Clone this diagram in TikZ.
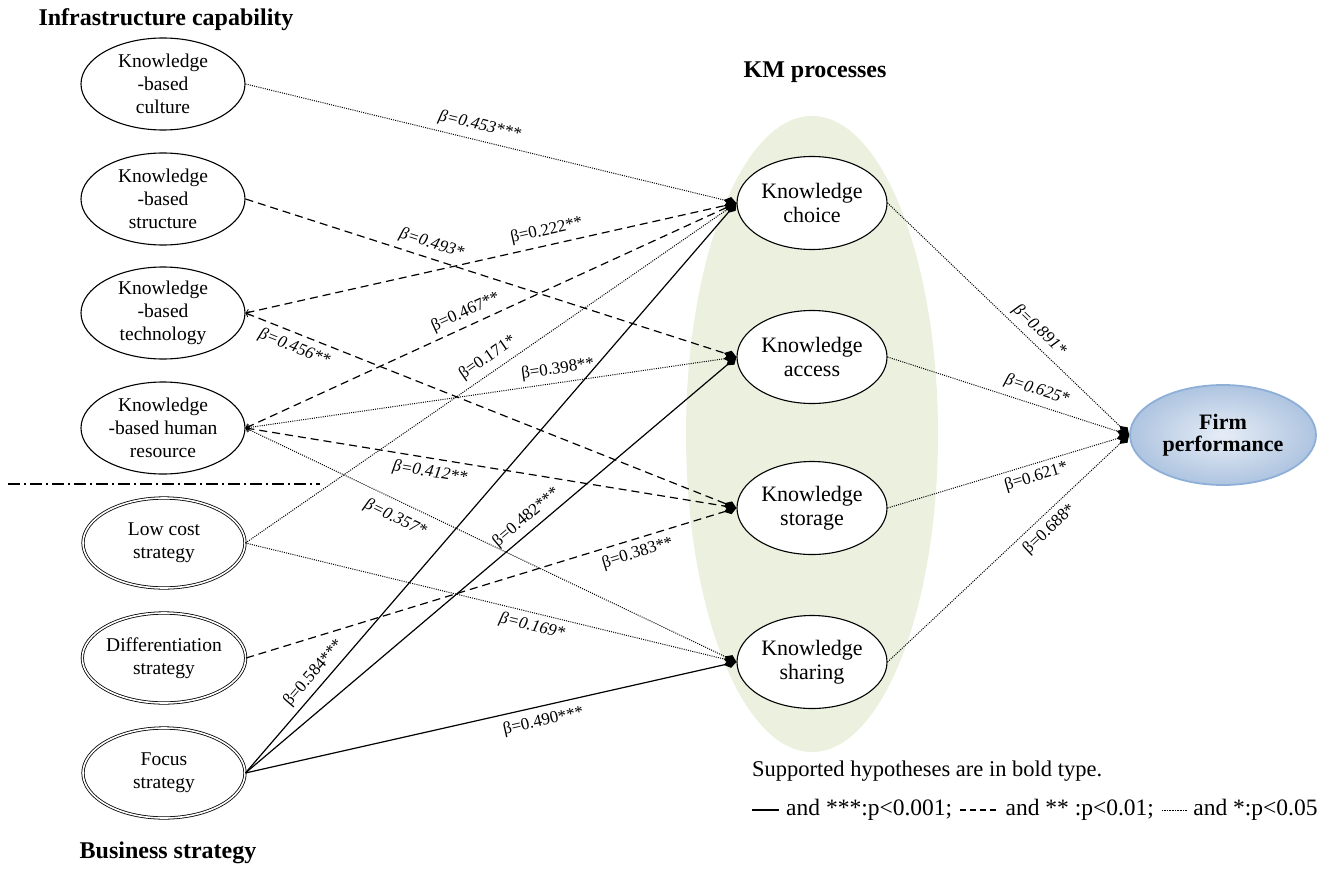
\documentclass[tikz,border=0pt]{standalone}
\usepackage{fontspec}
\setmainfont{Liberation Serif}
\usetikzlibrary{shapes.geometric,arrows.meta}
\definecolor{kmgreen}{HTML}{EBF1DE}
\definecolor{fpborder}{HTML}{8EAFD8}
\definecolor{fpin}{HTML}{E6EDF6}
\definecolor{fpout}{HTML}{AEC4E0}
\begin{document}
\begin{tikzpicture}[x=1pt,y=-1pt,
  leftell/.style={ellipse, draw, line width=1.1pt, minimum width=164pt, minimum height=92pt, inner xsep=0pt, inner ysep=-9pt, align=center, font=\fontsize{19.5}{22.7}\selectfont},
  stratell/.style={leftell, double, double distance=1.6pt, line width=0.8pt, minimum width=162pt, minimum height=90pt},
  kmell/.style={ellipse, draw, fill=white, line width=1.1pt, minimum width=150pt, minimum height=93pt, inner xsep=0pt, inner ysep=-9pt, align=center, font=\fontsize{22}{23.5}\selectfont},
  head/.style={font=\bfseries\fontsize{24}{28}\selectfont},
  sol/.style={line width=1.2pt},
  dsh/.style={line width=1.2pt, dash pattern=on 8pt off 5pt},
  dts/.style={line width=1pt, dash pattern=on 1pt off 1.2pt},
  tip/.style={-{Diamond[length=13pt,width=9pt]}},
  bktip/.style={{Straight Barb[length=3pt,width=6pt,line width=0.8pt]}-{Diamond[length=13pt,width=9pt]}},
  lab/.style={sloped, inner sep=1pt, font=\fontsize{17}{19}\selectfont},
  ilab/.style={sloped, inner sep=1pt, font=\itshape\fontsize{17}{19}\selectfont},
  legtxt/.style={anchor=west, inner sep=0pt, font=\fontsize{23.5}{26}\selectfont},
]
\useasboundingbox (0,0) rectangle (1335,869);

% background KM ellipse
\node[ellipse, fill=kmgreen, minimum width=252pt, minimum height=636pt, inner sep=0pt] (kmbg) at (812,434) {};

% headings
\node[head] (hinf) at (166,20) {Infrastructure capability};
\node[head] (hkm) at (815,72) {KM processes};
\node[head] (hbus) at (168,853) {Business strategy};

% left nodes
\node[leftell] (cult) at (163,84) {Knowledge\\-based\\culture};
\node[leftell] (struc) at (163,199) {Knowledge\\-based\\structure};
\node[leftell] (tech) at (163,313) {Knowledge\\-based\\technology};
\node[leftell] (hr) at (163,428) {Knowledge\\-based human\\resource};
\node[stratell] (low) at (164,543) {Low cost\\strategy};
\node[stratell] (diff) at (164,658) {Differentiation\\strategy};
\node[stratell] (focus) at (164,773) {Focus\\strategy};

% separator
\coordinate (sepa) at (8,484);
\coordinate (sepb) at (320,484);
\draw[line width=1.1pt, dash pattern=on 12pt off 4pt on 2pt off 4pt] (sepa) -- (sepb);

% KM nodes
\node[kmell] (choice) at (812,203) {Knowledge\\choice};
\node[kmell] (access) at (812,357) {Knowledge\\access};
\node[kmell] (storage) at (812,508) {Knowledge\\storage};
\node[kmell] (sharing) at (812,662) {Knowledge\\sharing};

% firm performance
\node[ellipse, draw=fpborder, line width=1.8pt, inner color=fpin, outer color=fpout, minimum width=186pt, minimum height=100pt, inner xsep=0pt, inner ysep=-6pt, align=center, font=\bfseries\fontsize{22}{22}\selectfont] (firm) at (1223,435) {Firm\\performance};

% edges to KM
\draw[dts,tip] (cult.east) -- node[ilab,above=5pt,pos=0.47]{β=0.453***} (choice.west);
\draw[dsh,tip] (struc.east) -- node[ilab,above=5pt,pos=0.37]{β=0.493*} (access.west);
\draw[dsh,bktip] (tech.east) -- node[lab,above=5pt,pos=0.62]{β=0.222**} (choice.west);
\draw[dsh,bktip] (tech.east) -- node[ilab,below=5pt,pos=0.11]{β=0.456**} (storage.west);
\draw[dsh,bktip] (hr.east) -- node[lab,above=4pt,pos=0.46]{β=0.467**} (choice.west);
\draw[dts,bktip] (hr.east) -- node[lab,above=4pt,pos=0.64]{β=0.398**} (access.west);
\draw[dsh,bktip] (hr.east) -- node[ilab,below=5pt,pos=0.38]{β=0.412**} (storage.west);
\draw[dts,bktip] (hr.east) -- node[ilab,below=8pt,pos=0.32]{β=0.357*} (sharing.west);
\draw[dts,tip] (low.east) -- node[lab,above=5pt,pos=0.51]{β=0.171*} (choice.west);
\draw[dts,tip] (low.east) -- node[ilab,below=4pt,pos=0.59]{β=0.169*} (sharing.west);
\draw[dsh,tip] (diff.east) -- node[lab,below=5pt,pos=0.79]{β=0.383**} (storage.west);
\draw[sol,tip] (focus.east) -- node[lab,above=4pt,pos=0.16]{β=0.584***} (choice.west);
\draw[sol,tip] (focus.east) -- node[lab,above=4pt,pos=0.59]{β=0.482***} (access.west);
\draw[sol,tip] (focus.east) -- node[lab,below=6pt,pos=0.60]{β=0.490***} (sharing.west);

% edges to firm
\draw[dts,tip] (choice.east) -- node[ilab,above=4pt,pos=0.59]{β=0.891*} (firm.west);
\draw[dts,tip] (access.east) -- node[ilab,above=5pt,pos=0.60]{β=0.625*} (firm.west);
\draw[dts,tip] (storage.east) -- node[lab,below=4pt,pos=0.60]{β=0.621*} (firm.west);
\draw[dts,tip] (sharing.east) -- node[lab,below=5pt,pos=0.63]{β=0.688*} (firm.west);

% legend
\node[legtxt, font=\fontsize{22.5}{26}\selectfont] (supp) at (752,771) {Supported hypotheses are in bold type.};
\coordinate (lga) at (752,810);
\coordinate (lgb) at (779,810);
\draw[line width=1.1pt] (lga) -- (lgb);
\node[legtxt] (lgt1) at ([xshift=7pt]lgb) {and ***:p<0.001;};
\coordinate (lgc) at ([xshift=8pt]lgt1.east |- lga);
\draw[line width=1.1pt, dash pattern=on 6pt off 4pt] (lgc) -- ++(38,0) coordinate (lgd);
\node[legtxt] (lgt2) at ([xshift=7pt]lgd) {and ** :p<0.01;};
\coordinate (lge) at ([xshift=8pt]lgt2.east |- lga);
\draw[line width=0.7pt, dash pattern=on 0.8pt off 0.8pt] (lge) -- ++(25,0) coordinate (lgf);
\node[legtxt] (lgt3) at ([xshift=6pt]lgf) {and *:p<0.05};
\end{tikzpicture}
\end{document}
